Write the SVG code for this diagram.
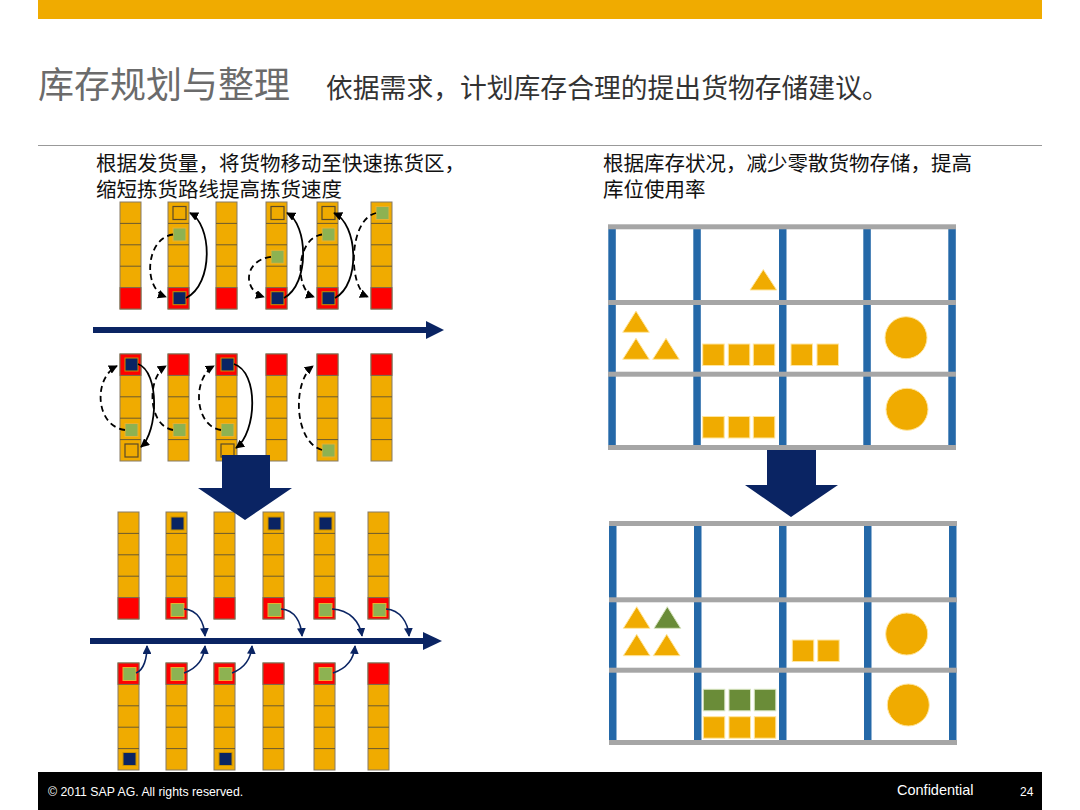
<svg xmlns="http://www.w3.org/2000/svg" xmlns:xlink="http://www.w3.org/1999/xlink" width="1080" height="810" viewBox="0 0 1080 810">
<style>
.cjk{font-family:"Noto Sans CJK SC","Noto Sans",sans-serif}
.lat{font-family:"Liberation Sans",Arial,sans-serif}
.red{fill:#FF0000;stroke:#7f6f50;stroke-width:1}
.nv{fill:#0A2463;stroke:#C89000;stroke-width:1}
.gr{fill:#8DB252;stroke:#E8B030;stroke-width:1}
.ol{fill:none;stroke:#5a4a28;stroke-width:1.2}
.dash{fill:none;stroke:#000;stroke-width:1.8;stroke-dasharray:6 4;marker-end:url(#ah)}
.sol{fill:none;stroke:#000;stroke-width:1.8;marker-end:url(#ah)}
.nar{fill:none;stroke:#0A2463;stroke-width:1.6;marker-end:url(#ahn)}
.gbar{fill:#A6A6A6}
.up{fill:#2468A8}
.y{fill:#F0AB00;stroke:#FFE6A0;stroke-width:1}
.g{fill:#6A8C38;stroke:#D8E4C0;stroke-width:1}
</style>
<defs>
<marker id="ah" viewBox="0 0 10 10" refX="9" refY="5" markerWidth="5" markerHeight="5" orient="auto" markerUnits="strokeWidth"><path d="M0 0L10 5L0 10z" fill="#000"/></marker>
<marker id="ahn" viewBox="0 0 10 10" refX="9" refY="5" markerWidth="5.5" markerHeight="5.5" orient="auto" markerUnits="strokeWidth"><path d="M0 0L10 5L0 10z" fill="#0A2463"/></marker>
<g id="col">
<rect x="0" y="0" width="21" height="107" fill="#F0AB00" stroke="#857a66" stroke-width="1"/>
<path d="M0 21.4H21M0 42.8H21M0 64.2H21M0 85.6H21" stroke="#6b5a30" stroke-width="1"/>
</g>
</defs>
<rect width="1080" height="810" fill="#fff"/>
<g id="header">
<rect x="38" y="0" width="1004" height="19" fill="#F0AB00"/>
<text x="38" y="98" class="cjk" font-size="36" fill="#6b6b6b">库存规划与整理</text>
<text x="326" y="97.5" class="cjk" font-size="26.8" fill="#333">依据需求，计划库存合理的提出货物存储建议。</text>
<line x1="38" y1="145.5" x2="1042" y2="145.5" stroke="#999" stroke-width="1"/>
<text class="cjk" font-size="20.5" fill="#111"><tspan x="96" y="171">根据发货量，将货物移动至快速拣货区，</tspan><tspan x="96" y="196.5">缩短拣货路线提高拣货速度</tspan></text>
<text class="cjk" font-size="20.5" fill="#111"><tspan x="603" y="171">根据库存状况，减少零散货物存储，提高</tspan><tspan x="603" y="196.5">库位使用率</tspan></text>
</g>
<g id="rowA">
<use href="#col" x="120" y="202"/><use href="#col" x="168" y="202"/><use href="#col" x="216" y="202"/><use href="#col" x="266" y="202"/><use href="#col" x="317" y="202"/><use href="#col" x="371" y="202"/>
<rect class="red" x="120" y="287.6" width="21" height="21.4"/><rect class="red" x="168" y="287.6" width="21" height="21.4"/><rect class="red" x="216" y="287.6" width="21" height="21.4"/><rect class="red" x="266" y="287.6" width="21" height="21.4"/><rect class="red" x="317" y="287.6" width="21" height="21.4"/><rect class="red" x="371" y="287.6" width="21" height="21.4"/>
<rect class="ol" x="173" y="206.5" width="13" height="13"/><rect class="gr" x="173" y="228" width="13" height="13"/><rect class="nv" x="173" y="291.7" width="13" height="13"/>
<rect class="ol" x="271" y="206.5" width="13" height="13"/><rect class="gr" x="271" y="250.3" width="13" height="13"/><rect class="nv" x="271" y="291.7" width="13" height="13"/>
<rect class="ol" x="322" y="206.5" width="13" height="13"/><rect class="gr" x="322" y="228" width="13" height="13"/><rect class="nv" x="322" y="291.7" width="13" height="13"/>
<rect class="gr" x="376" y="206.5" width="13" height="13"/>
</g>
<g id="rowB">
<use href="#col" x="120" y="354"/><use href="#col" x="168" y="354"/><use href="#col" x="216" y="354"/><use href="#col" x="266" y="354"/><use href="#col" x="317" y="354"/><use href="#col" x="371" y="354"/>
<rect class="red" x="120" y="354" width="21" height="21.4"/><rect class="red" x="168" y="354" width="21" height="21.4"/><rect class="red" x="216" y="354" width="21" height="21.4"/><rect class="red" x="266" y="354" width="21" height="21.4"/><rect class="red" x="317" y="354" width="21" height="21.4"/><rect class="red" x="371" y="354" width="21" height="21.4"/>
<rect class="nv" x="125" y="358" width="13" height="13"/><rect class="gr" x="125" y="423.5" width="13" height="13"/><rect class="ol" x="125" y="444" width="13" height="13"/>
<rect class="gr" x="173" y="423.5" width="13" height="13"/>
<rect class="nv" x="221" y="358" width="13" height="13"/><rect class="gr" x="221" y="423.5" width="13" height="13"/><rect class="ol" x="221" y="444" width="13" height="13"/>
<rect class="gr" x="322" y="444" width="13" height="13"/>
</g>
<g id="rowC">
<use href="#col" x="118" y="512"/><use href="#col" x="166" y="512"/><use href="#col" x="214" y="512"/><use href="#col" x="263" y="512"/><use href="#col" x="314" y="512"/><use href="#col" x="368" y="512"/>
<rect class="red" x="118" y="597.6" width="21" height="21.4"/><rect class="red" x="166" y="597.6" width="21" height="21.4"/><rect class="red" x="214" y="597.6" width="21" height="21.4"/><rect class="red" x="263" y="597.6" width="21" height="21.4"/><rect class="red" x="314" y="597.6" width="21" height="21.4"/><rect class="red" x="368" y="597.6" width="21" height="21.4"/>
<rect class="nv" x="171" y="517" width="13" height="13"/><rect class="gr" x="171" y="603.5" width="13" height="13"/>
<rect class="nv" x="268" y="517" width="13" height="13"/><rect class="gr" x="268" y="603.5" width="13" height="13"/>
<rect class="nv" x="319" y="517" width="13" height="13"/><rect class="gr" x="319" y="603.5" width="13" height="13"/>
<rect class="gr" x="373" y="603.5" width="13" height="13"/>
</g>
<g id="rowD">
<use href="#col" x="118" y="663"/><use href="#col" x="166" y="663"/><use href="#col" x="214" y="663"/><use href="#col" x="263" y="663"/><use href="#col" x="314" y="663"/><use href="#col" x="368" y="663"/>
<rect class="red" x="118" y="663" width="21" height="21.4"/><rect class="red" x="166" y="663" width="21" height="21.4"/><rect class="red" x="214" y="663" width="21" height="21.4"/><rect class="red" x="263" y="663" width="21" height="21.4"/><rect class="red" x="314" y="663" width="21" height="21.4"/><rect class="red" x="368" y="663" width="21" height="21.4"/>
<rect class="gr" x="123" y="667.5" width="13" height="13"/><rect class="nv" x="123" y="752.5" width="13" height="13"/>
<rect class="gr" x="171" y="667.5" width="13" height="13"/>
<rect class="gr" x="219" y="667.5" width="13" height="13"/><rect class="nv" x="219" y="752.5" width="13" height="13"/>
<rect class="gr" x="319" y="667.5" width="13" height="13"/>
</g>
<g id="connectors">
<path class="dash" d="M173,234.5 C146,238 142,288 166,297"/>
<path class="sol" d="M186,298 C214,284 212,224 190,213"/>
<path class="dash" d="M271,256.8 C244,260 242,290 264,297"/>
<path class="sol" d="M284,298 C310,284 308,224 287,213"/>
<path class="dash" d="M322,234.5 C296,238 294,290 314,297"/>
<path class="sol" d="M335,298 C361,284 358,224 334,213"/>
<path class="dash" d="M376,213 C348,220 348,288 368,297"/>
<path class="dash" d="M125,430 C95,426 93,378 117,366"/>
<path class="sol" d="M138,364 C160,372 158,432 141,447"/>
<path class="dash" d="M173,430 C148,426 146,378 166,366"/>
<path class="dash" d="M221,430 C194,426 192,378 214,366"/>
<path class="sol" d="M234,364 C259,372 257,432 236,448"/>
<path class="dash" d="M322,450 C294,442 292,382 313,366"/>
<line x1="93" y1="330" x2="428" y2="330" stroke="#0A2463" stroke-width="6"/>
<polygon points="426,321 444,330 426,339" fill="#0A2463"/>
<polygon points="222,455 270,455 270,488 292,488 245,520 198,488 222,488" fill="#0A2463"/>
<line x1="90" y1="641" x2="425" y2="641" stroke="#0A2463" stroke-width="6"/>
<polygon points="423,632 442,641 423,650" fill="#0A2463"/>
<path class="nar" d="M184,609 C198,610 204,622 205,636"/>
<path class="nar" d="M281,609 C295,610 301,622 302,636"/>
<path class="nar" d="M332,609 C350,610 360,622 362,636"/>
<path class="nar" d="M386,609 C400,610 408,622 409,636"/>
<path class="nar" d="M136,673 C144,670 147,658 147,646"/>
<path class="nar" d="M184,673 C198,668 204,658 205,646"/>
<path class="nar" d="M232,673 C245,668 251,658 252,646"/>
<path class="nar" d="M333,673 C348,668 354,658 355,646"/>
<polygon points="767,450 816,450 816,485 838,485 791,517 745,485 767,485" fill="#0A2463"/>
</g>
<g id="shelf-before">
<rect class="up" x="608.3" y="226" width="7.5" height="222"/><rect class="up" x="693.3" y="226" width="7.5" height="222"/><rect class="up" x="779" y="226" width="7.5" height="222"/><rect class="up" x="863.3" y="226" width="7.5" height="222"/><rect class="up" x="948.3" y="226" width="7.5" height="222"/>
<rect class="gbar" x="608" y="224.3" width="348" height="5"/><rect class="gbar" x="608" y="300" width="348" height="5"/><rect class="gbar" x="608" y="371.7" width="348" height="5"/><rect class="gbar" x="608" y="445" width="348" height="5"/>
<polygon class="y" points="750,290 763.3,269.5 776.7,290"/>
<polygon class="y" points="622.7,332.3 636,311 649.3,332.3"/>
<polygon class="y" points="622.7,359.3 636,338.3 649.3,359.3"/>
<polygon class="y" points="652.7,359.3 666,338.3 679.3,359.3"/>
<rect class="y" x="702.7" y="344" width="21.5" height="21.5"/><rect class="y" x="728.3" y="344" width="21.5" height="21.5"/><rect class="y" x="753.3" y="344" width="21.5" height="21.5"/>
<rect class="y" x="791" y="344" width="21.5" height="21.5"/><rect class="y" x="817" y="344" width="21.5" height="21.5"/>
<circle class="y" cx="906" cy="337.7" r="21"/>
<rect class="y" x="702.7" y="416.5" width="21.5" height="21.5"/><rect class="y" x="728.3" y="416.5" width="21.5" height="21.5"/><rect class="y" x="753.3" y="416.5" width="21.5" height="21.5"/>
<circle class="y" cx="907" cy="409.3" r="21"/>
</g>
<g id="shelf-after">
<rect class="up" x="609" y="523" width="7.5" height="220"/><rect class="up" x="694" y="523" width="7.5" height="220"/><rect class="up" x="779" y="523" width="7.5" height="220"/><rect class="up" x="864" y="523" width="7.5" height="220"/><rect class="up" x="949" y="523" width="7.5" height="220"/>
<rect class="gbar" x="609" y="521" width="348" height="5"/><rect class="gbar" x="609" y="597.3" width="348" height="5"/><rect class="gbar" x="609" y="667.7" width="348" height="5"/><rect class="gbar" x="609" y="740" width="348" height="5"/>
<polygon class="y" points="623.3,628.3 636.7,606.7 650,628.3"/>
<polygon class="g" points="654,628.3 667.3,606.7 680.7,628.3"/>
<polygon class="y" points="623.3,655.7 636.7,634.3 650,655.7"/>
<polygon class="y" points="653.3,655.7 666.7,634.3 680,655.7"/>
<rect class="y" x="792.3" y="640" width="21.5" height="21.5"/><rect class="y" x="817.7" y="640" width="21.5" height="21.5"/>
<circle class="y" cx="906.7" cy="634" r="21"/>
<rect class="g" x="703.3" y="689.3" width="21.5" height="21.5"/><rect class="g" x="729" y="689.3" width="21.5" height="21.5"/><rect class="g" x="754.3" y="689.3" width="21.5" height="21.5"/>
<rect class="y" x="703.3" y="716.7" width="21.5" height="21.5"/><rect class="y" x="729" y="716.7" width="21.5" height="21.5"/><rect class="y" x="754.3" y="716.7" width="21.5" height="21.5"/>
<circle class="y" cx="908.3" cy="705" r="21"/>
</g>
<g id="footer">
<rect x="38" y="772" width="1004" height="38" fill="#000"/>
<text x="48" y="796" class="lat" font-size="12.3" fill="#fff">© 2011 SAP AG. All rights reserved.</text>
<text x="897" y="795" class="lat" font-size="14.5" fill="#fff">Confidential</text>
<text x="1020" y="796" class="lat" font-size="12" fill="#fff">24</text>
</g>
</svg>
